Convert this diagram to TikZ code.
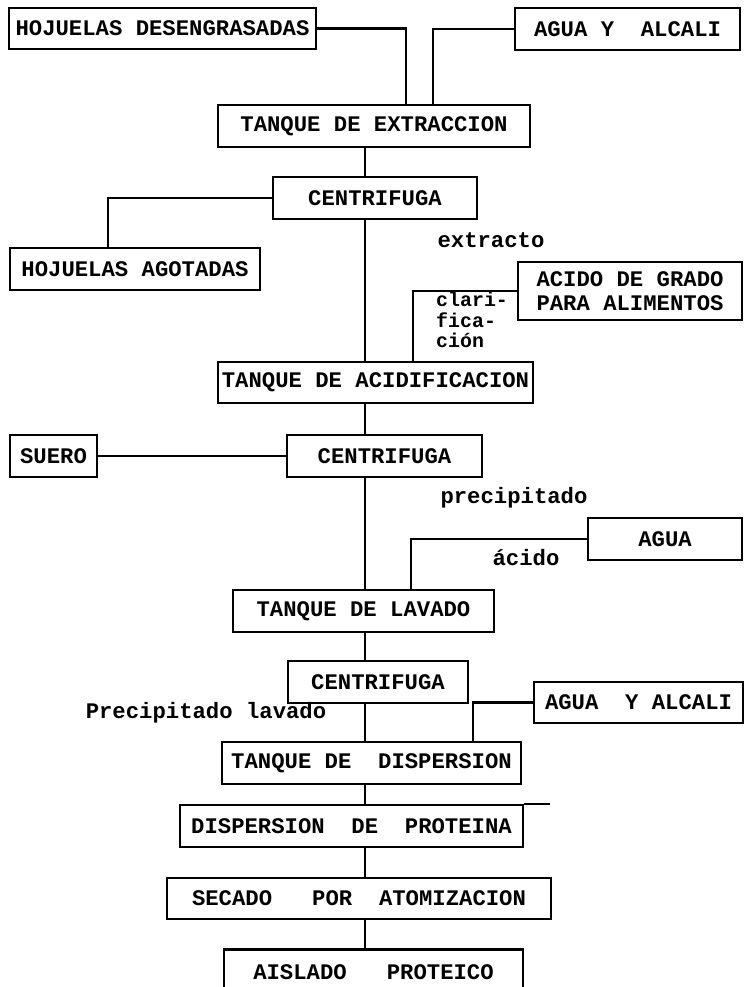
\documentclass[tikz,border=0pt]{standalone}
\usepackage{fontspec}
\setmonofont{Liberation Mono}
\usepackage{tikz}
\usetikzlibrary{positioning,calc}

\begin{document}
\begin{tikzpicture}[x=0.03cm,y=-0.03cm,
  box/.style={draw,line width=1.8pt,minimum height=1.25cm,inner xsep=1pt,inner ysep=0pt,
    font=\ttfamily\bfseries\fontsize{19}{21}\selectfont},
  lbl/.style={inner sep=0pt,font=\ttfamily\bfseries\fontsize{19}{21}\selectfont},
  link/.style={line width=1.8pt},
]
  \useasboundingbox (0,0) rectangle (744,987);
  \coordinate (sp) at (365,0);
  % entradas y extraccion
  \node[box,minimum width=9.21cm] (hd) at (162.5,28.5) {HOJUELAS DESENGRASADAS};
  \node[box,minimum width=6.75cm] (aa1) at (627.5,29) {AGUA Y~~ALCALI};
  \node[box,minimum width=9.36cm] (te) at (374,126) {TANQUE DE EXTRACCION};
  \node[box,minimum width=6.12cm] (c1) at (375,198) {CENTRIFUGA};
  \node[box,minimum width=7.5cm] (ha) at (135,269) {HOJUELAS AGOTADAS};
  \node[lbl] (ext) at (491,240) {extracto};
  \node[box,minimum width=6.72cm,minimum height=1.74cm,align=center] (ad) at (630,291)
    {ACIDO DE GRADO\\PARA ALIMENTOS};
  \node[lbl,anchor=west,align=left,font=\ttfamily\bfseries\fontsize{17}{17.5}\selectfont] (cla) at (436,320)
    {clari-\\fica-\\ción};
  % acidificacion
  \node[box,minimum width=9.45cm] (ta) at (375.5,382.5) {TANQUE DE ACIDIFICACION};
  \node[box,minimum width=2.61cm] (su) at (53.5,456) {SUERO};
  \node[box,minimum width=5.85cm] (c2) at (384.5,456) {CENTRIFUGA};
  \node[lbl] (pre) at (514,498) {precipitado};
  \node[box,minimum width=4.62cm] (ag) at (665,539) {AGUA};
  \node[lbl] (aci) at (526,558) {ácido};
  % lavado y dispersion
  \node[box,minimum width=7.83cm] (tl) at (363.5,611) {TANQUE DE LAVADO};
  \node[box,minimum width=5.4cm] (c3) at (378,682) {CENTRIFUGA};
  \node[box,minimum width=6.27cm] (aa2) at (638.5,702.5) {AGUA~~Y ALCALI};
  \node[lbl] (pla) at (206,713) {Precipitado lavado};
  \node[box,minimum width=8.97cm] (td) at (371.5,763) {TANQUE DE~~DISPERSION};
  \node[box,minimum width=10.29cm] (dp) at (351.5,826) {DISPERSION~~DE~~PROTEINA};
  \node[box,minimum width=11.52cm] (se) at (359,898.5) {SECADO~~~POR~~ATOMIZACION};
  \node[box,minimum width=8.97cm,minimum height=1.35cm] (ai) at (373.5,972) {AISLADO~~~PROTEICO};

  \draw[link] (hd.east) -| ($(te.north)+(32,0)$);
  \draw[link] (aa1.west) -| ($(te.north)+(59,0)$);
  \draw[link] (c1.west) -| ($(ha.north)+(-27,0)$);
  \draw[link] (ad.west) -| ($(ta.north)+(37.5,0)$);
  \draw[link] (su) -- (c2);
  \draw[link] (ag.west) -| ($(tl.north)+(47.5,0)$);
  \draw[link] (aa2.west) -| ($(td.north)+(101.5,0)$);
  \draw[link] (dp.north east) -- ++(26,0);
  \draw[link] (te.south -| sp) -- (c1.north -| sp); \draw[link] (c1.south -| sp) -- (ta.north -| sp);
  \draw[link] (ta.south -| sp) -- (c2.north -| sp); \draw[link] (c2.south -| sp) -- (tl.north -| sp);
  \draw[link] (tl.south -| sp) -- (c3.north -| sp); \draw[link] (c3.south -| sp) -- (td.north -| sp);
  \draw[link] (td.south -| sp) -- (dp.north -| sp); \draw[link] (dp.south -| sp) -- (se.north -| sp);
  \draw[link] (se.south -| sp) -- (ai.north -| sp);
\end{tikzpicture}
\end{document}
